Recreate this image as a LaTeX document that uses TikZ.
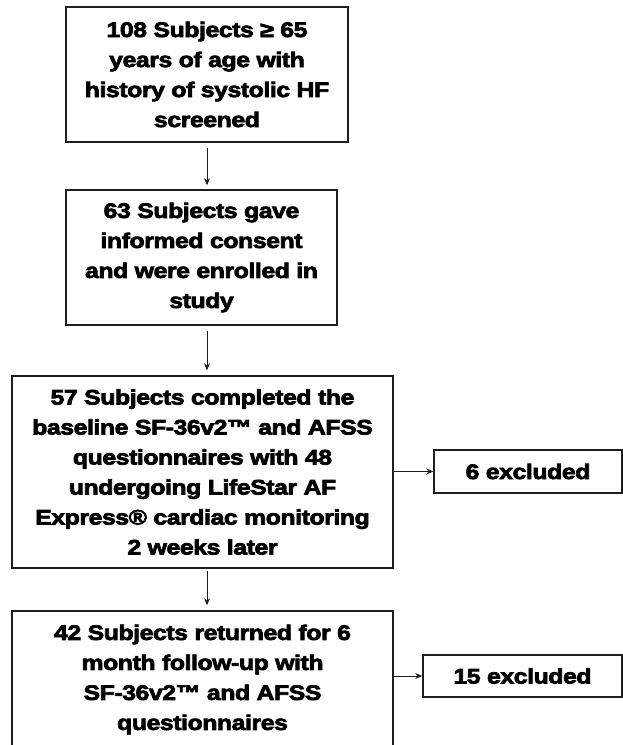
\documentclass[tikz,border=0pt]{standalone}
\usepackage{fontspec}
\newfontfamily\heavy{Liberation Sans}[UprightFont={* Bold}, FakeBold=3.5, FakeStretch=1.18, LetterSpace=-2]
\usetikzlibrary{arrows.meta}
\definecolor{edge}{HTML}{1E1E1E}
\tikzset{
  box/.style={draw=edge, line width=1.5pt, align=center, inner sep=0pt,
    font=\heavy\fontsize{21}{30}\selectfont, text=black},
  conn/.style={draw=edge, line width=1pt, -{Stealth[length=7pt,width=6pt]}},
}
\begin{document}
\begin{tikzpicture}[x=1pt,y=-1pt]
\useasboundingbox (0,0) rectangle (623,745);
\fill[white] (0,0) rectangle (623,745);
\node[box, minimum width=282pt, minimum height=135pt] (b1) at (207,74.5)
  {108 Subjects ≥ 65\\years of age with\\history of systolic HF\\screened};
\node[box, minimum width=271pt, minimum height=135pt] (b2) at (201.5,257.5)
  {63 Subjects gave\\informed consent\\and were enrolled in\\study};
\node[box, minimum width=381pt, minimum height=192pt] (b3) at (202.5,472)
  {57 Subjects completed the\\baseline SF-36v2™ and AFSS\\questionnaires with 48\\undergoing LifeStar AF\\Express® cardiac monitoring\\2 weeks later};
\node[box, minimum width=381pt, minimum height=137pt] (b4) at (202.5,679.5)
  {42 Subjects returned for 6\\month follow-up with\\SF-36v2™ and AFSS\\questionnaires};
\node[box, minimum width=188pt, minimum height=43pt] (e1) at (528,471.5) {6 excluded};
\node[box, minimum width=199pt, minimum height=42pt] (e2) at (522.5,676) {15 excluded};
\draw[conn, shorten <=5pt, shorten >=4pt] (b1.south) -- (b1.south |- b2.north);
\draw[conn, shorten <=5pt, shorten >=5pt] (b1.south |- b2.south) -- (b1.south |- b3.north);
\draw[conn, shorten <=2pt, shorten >=5pt] (b1.south |- b3.south) -- (b1.south |- b4.north);
\draw[conn] (b3.east |- e1.west) -- (e1.west);
\draw[conn] (b4.east |- e2.west) -- (e2.west);
\end{tikzpicture}
\end{document}
